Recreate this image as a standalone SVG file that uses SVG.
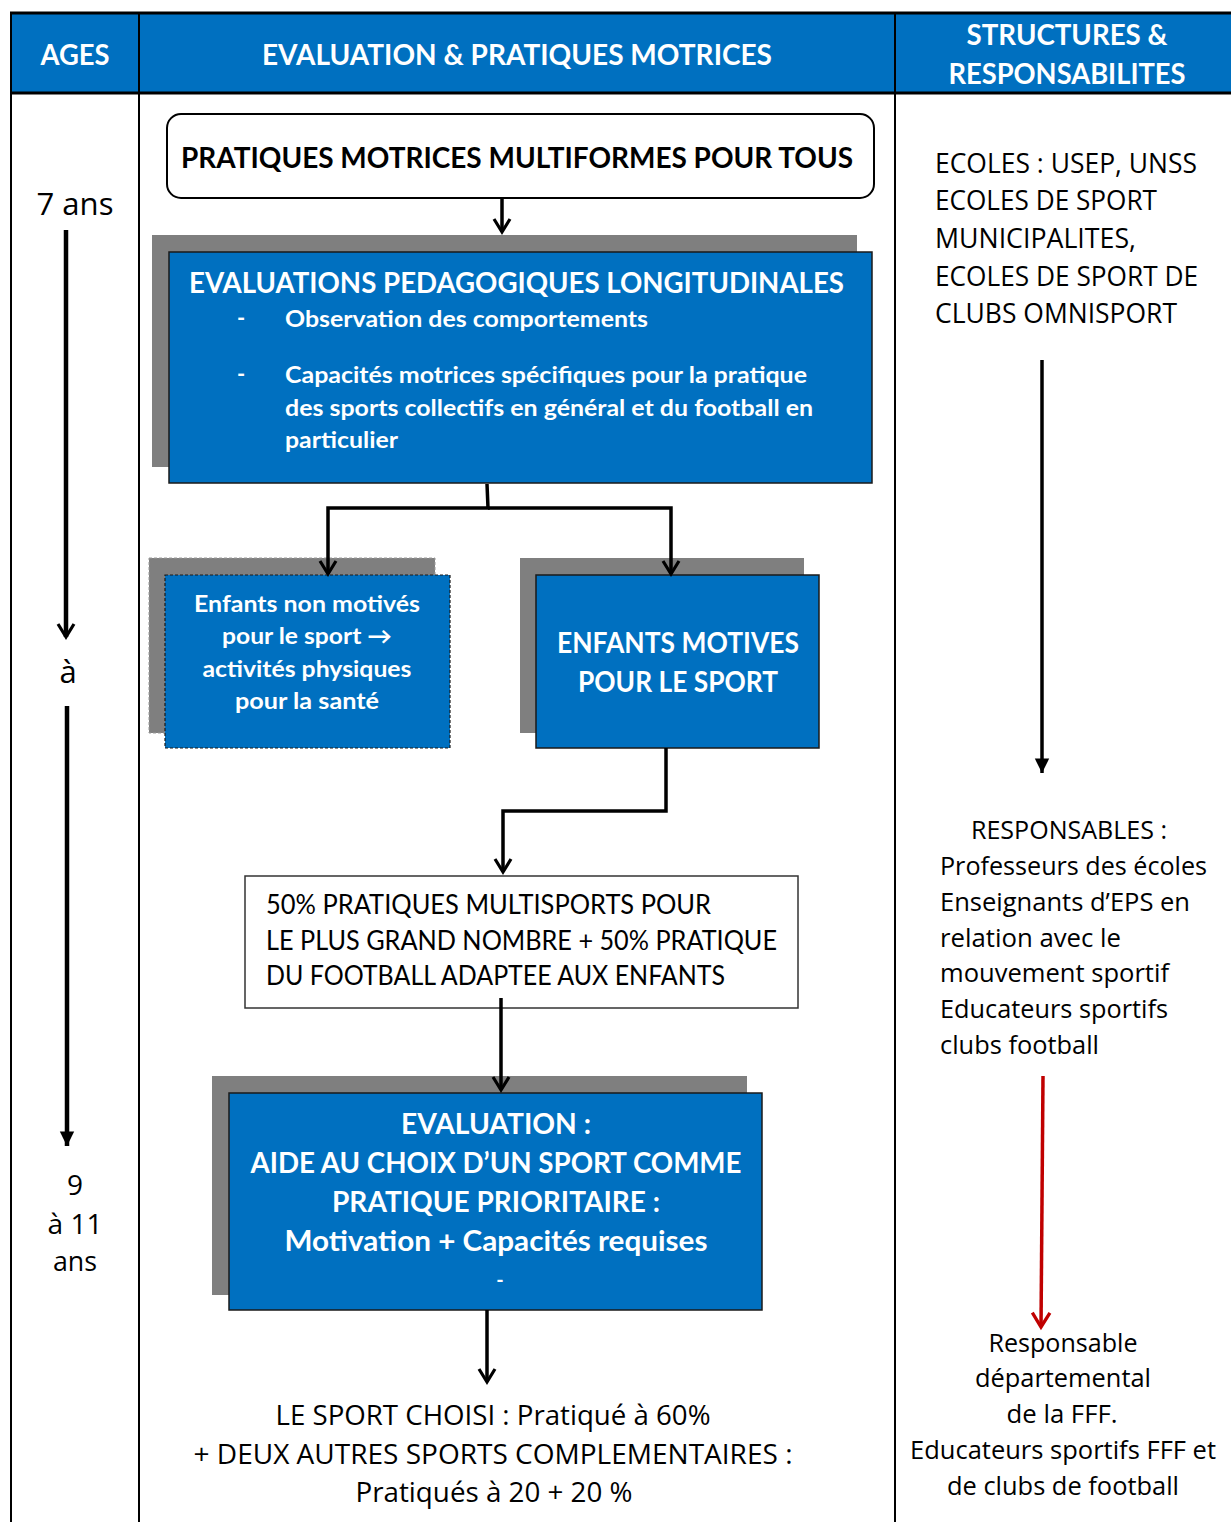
<svg xmlns="http://www.w3.org/2000/svg" width="1231" height="1522" viewBox="0 0 1231 1522">
<style>
.cal{font-family:Lato,"Liberation Sans",sans-serif}
.seg{font-family:"Open Sans","Liberation Sans",sans-serif;fill:#000}
.hd{font-weight:bold;fill:#fff;font-size:28px}
.wb{font-weight:bold;fill:#fff}
.blk{fill:#000}
.blue{fill:#0070C0;stroke:#1a1a1a;stroke-width:1.5}
.shadow{fill:#7F7F7F}
.conn{fill:none;stroke:#000;stroke-width:3.5}
.grid{stroke:#000;stroke-width:2}
</style>
<defs>
<marker id="openV" viewBox="0 0 20 20" refX="16" refY="10" markerWidth="20" markerHeight="20" markerUnits="userSpaceOnUse" orient="auto">
<path d="M3,2 L16,10 L3,18" fill="none" stroke="#000" stroke-width="3.2"/>
</marker>
<marker id="openVred" viewBox="0 0 20 20" refX="16" refY="10" markerWidth="22" markerHeight="22" markerUnits="userSpaceOnUse" orient="auto">
<path d="M3,2 L16,10 L3,18" fill="none" stroke="#C00000" stroke-width="3"/>
</marker>
<marker id="tri" viewBox="0 0 20 20" refX="18" refY="10" markerWidth="18" markerHeight="18" markerUnits="userSpaceOnUse" orient="auto">
<path d="M2,2 L18,10 L2,18 Z" fill="#000"/>
</marker>
</defs>
<rect width="1231" height="1522" fill="#fff"/>

<g id="table">
<rect x="11" y="13" width="1220" height="80" fill="#0070C0"/>
<line x1="10" y1="13" x2="1231" y2="13" stroke="#000" stroke-width="3"/>
<line x1="10" y1="93" x2="1231" y2="93" stroke="#000" stroke-width="3"/>
<line class="grid" x1="11" y1="12" x2="11" y2="1522"/>
<line class="grid" x1="139" y1="12" x2="139" y2="1522"/>
<line class="grid" x1="895" y1="12" x2="895" y2="1522"/>
<text class="cal hd" x="75" y="65" text-anchor="middle" textLength="69" lengthAdjust="spacingAndGlyphs">AGES</text>
<text class="cal hd" x="517" y="65" text-anchor="middle" textLength="510" lengthAdjust="spacingAndGlyphs">EVALUATION &amp; PRATIQUES MOTRICES</text>
<text class="cal hd" x="1067" y="45" text-anchor="middle" textLength="201" lengthAdjust="spacingAndGlyphs">STRUCTURES &amp;</text>
<text class="cal hd" x="1067" y="84" text-anchor="middle" textLength="237" lengthAdjust="spacingAndGlyphs">RESPONSABILITES</text>
</g>

<g id="ages">
<text class="seg" x="75" y="215" font-size="31" text-anchor="middle" textLength="77" lengthAdjust="spacingAndGlyphs">7 ans</text>
<text class="seg" x="68" y="683" font-size="31" text-anchor="middle">à</text>
<text class="seg" x="75" y="1195" font-size="28" text-anchor="middle">9</text>
<text class="seg" x="75" y="1234" font-size="28" text-anchor="middle" textLength="55" lengthAdjust="spacingAndGlyphs">à 11</text>
<text class="seg" x="75" y="1271" font-size="28" text-anchor="middle" textLength="44" lengthAdjust="spacingAndGlyphs">ans</text>
</g>

<g id="n1">
<rect x="167" y="114" width="707" height="84" rx="14" fill="#fff" stroke="#000" stroke-width="2"/>
<text class="cal blk" x="181" y="168" font-size="28" font-weight="bold" textLength="672" lengthAdjust="spacingAndGlyphs">PRATIQUES MOTRICES MULTIFORMES POUR TOUS</text>
</g>

<g id="n2">
<rect class="shadow" x="152" y="235" width="705" height="232"/>
<rect class="blue" x="169" y="252" width="703" height="231"/>
<text class="cal wb" x="189" y="293" font-size="28" textLength="655" lengthAdjust="spacingAndGlyphs">EVALUATIONS PEDAGOGIQUES LONGITUDINALES</text>
<text class="cal wb" x="237" y="326" font-size="22" font-weight="normal">-</text>
<text class="cal wb" x="285" y="327" font-size="23" textLength="363" lengthAdjust="spacingAndGlyphs">Observation des comportements</text>
<text class="cal wb" x="237" y="382" font-size="22" font-weight="normal">-</text>
<text class="cal wb" x="285" y="383" font-size="23" textLength="522" lengthAdjust="spacingAndGlyphs">Capacités motrices spécifiques pour la pratique</text>
<text class="cal wb" x="285" y="416" font-size="23" textLength="528" lengthAdjust="spacingAndGlyphs">des sports collectifs en général et du football en</text>
<text class="cal wb" x="285" y="448" font-size="23" textLength="113" lengthAdjust="spacingAndGlyphs">particulier</text>
</g>

<g id="n3">
<rect class="shadow" x="149" y="558" width="286" height="175" stroke="#9a9a9a" stroke-width="1" stroke-dasharray="3,2"/>
<rect x="165" y="575" width="285" height="173" fill="#0070C0" stroke="#1a1a1a" stroke-width="1.2" stroke-dasharray="3,2"/>
<text class="cal wb" x="307" y="612" font-size="23" text-anchor="middle" textLength="226" lengthAdjust="spacingAndGlyphs">Enfants non motivés</text>
<text class="cal wb" x="307" y="644" font-size="23" text-anchor="middle" textLength="170" lengthAdjust="spacingAndGlyphs">pour le sport →</text>
<text class="cal wb" x="307" y="677" font-size="23" text-anchor="middle" textLength="209" lengthAdjust="spacingAndGlyphs">activités physiques</text>
<text class="cal wb" x="307" y="709" font-size="23" text-anchor="middle" textLength="144" lengthAdjust="spacingAndGlyphs">pour la santé</text>
</g>

<g id="n4">
<rect class="shadow" x="520" y="558" width="284" height="175"/>
<rect class="blue" x="536" y="575" width="283" height="173"/>
<text class="cal wb" x="678" y="653" font-size="28" text-anchor="middle" textLength="242" lengthAdjust="spacingAndGlyphs">ENFANTS MOTIVES</text>
<text class="cal wb" x="678" y="692" font-size="28" text-anchor="middle" textLength="200" lengthAdjust="spacingAndGlyphs">POUR LE SPORT</text>
</g>

<g id="n5">
<rect x="245" y="876" width="553" height="132" fill="#fff" stroke="#333" stroke-width="1.5"/>
<text class="cal blk" x="266" y="914" font-size="26" textLength="445" lengthAdjust="spacingAndGlyphs">50% PRATIQUES MULTISPORTS POUR</text>
<text class="cal blk" x="266" y="950" font-size="26" textLength="511" lengthAdjust="spacingAndGlyphs">LE PLUS GRAND NOMBRE + 50% PRATIQUE</text>
<text class="cal blk" x="266" y="985" font-size="26" textLength="459" lengthAdjust="spacingAndGlyphs">DU FOOTBALL ADAPTEE AUX ENFANTS</text>
</g>

<g id="n6">
<rect class="shadow" x="212" y="1076" width="535" height="219"/>
<rect class="blue" x="229" y="1093" width="533" height="217"/>
<text class="cal wb" x="496" y="1134" font-size="28" text-anchor="middle" textLength="190" lengthAdjust="spacingAndGlyphs">EVALUATION :</text>
<text class="cal wb" x="496" y="1173" font-size="28" text-anchor="middle" textLength="491" lengthAdjust="spacingAndGlyphs">AIDE AU CHOIX D’UN SPORT COMME</text>
<text class="cal wb" x="496" y="1212" font-size="28" text-anchor="middle" textLength="328" lengthAdjust="spacingAndGlyphs">PRATIQUE PRIORITAIRE :</text>
<text class="cal wb" x="496" y="1251" font-size="28" text-anchor="middle" textLength="423" lengthAdjust="spacingAndGlyphs">Motivation + Capacités requises</text>
<text class="cal wb" x="500" y="1287" font-size="20" font-weight="normal" text-anchor="middle">-</text>
</g>

<g id="n7">
<text class="seg" x="493" y="1425" font-size="27" text-anchor="middle" textLength="435" lengthAdjust="spacingAndGlyphs">LE SPORT CHOISI : Pratiqué à 60%</text>
<text class="seg" x="493" y="1464" font-size="27" text-anchor="middle" textLength="599" lengthAdjust="spacingAndGlyphs">+ DEUX AUTRES SPORTS COMPLEMENTAIRES :</text>
<text class="seg" x="494" y="1502" font-size="27" text-anchor="middle" textLength="277" lengthAdjust="spacingAndGlyphs">Pratiqués à 20 + 20 %</text>
</g>

<g id="structures">
<text class="seg" x="935" y="173" font-size="27" textLength="262" lengthAdjust="spacingAndGlyphs">ECOLES : USEP, UNSS</text>
<text class="seg" x="935" y="210" font-size="27" textLength="222" lengthAdjust="spacingAndGlyphs">ECOLES DE SPORT</text>
<text class="seg" x="935" y="248" font-size="27" textLength="201" lengthAdjust="spacingAndGlyphs">MUNICIPALITES,</text>
<text class="seg" x="935" y="286" font-size="27" textLength="263" lengthAdjust="spacingAndGlyphs">ECOLES DE SPORT DE</text>
<text class="seg" x="935" y="323" font-size="27" textLength="242" lengthAdjust="spacingAndGlyphs">CLUBS OMNISPORT</text>
</g>

<g id="responsables">
<text class="seg" x="1069" y="839" font-size="26" text-anchor="middle" textLength="196" lengthAdjust="spacingAndGlyphs">RESPONSABLES :</text>
<text class="seg" x="940" y="875" font-size="26" textLength="267" lengthAdjust="spacingAndGlyphs">Professeurs des écoles</text>
<text class="seg" x="940" y="911" font-size="26" textLength="250" lengthAdjust="spacingAndGlyphs">Enseignants d’EPS en</text>
<text class="seg" x="940" y="947" font-size="26" textLength="181" lengthAdjust="spacingAndGlyphs">relation avec le</text>
<text class="seg" x="940" y="982" font-size="26" textLength="229" lengthAdjust="spacingAndGlyphs">mouvement sportif</text>
<text class="seg" x="940" y="1018" font-size="26" textLength="228" lengthAdjust="spacingAndGlyphs">Educateurs sportifs</text>
<text class="seg" x="940" y="1054" font-size="26" textLength="159" lengthAdjust="spacingAndGlyphs">clubs football</text>
</g>

<g id="fff">
<text class="seg" x="1063" y="1352" font-size="26" text-anchor="middle" textLength="149" lengthAdjust="spacingAndGlyphs">Responsable</text>
<text class="seg" x="1063" y="1387" font-size="26" text-anchor="middle" textLength="176" lengthAdjust="spacingAndGlyphs">départemental</text>
<text class="seg" x="1062" y="1423" font-size="26" text-anchor="middle" textLength="111" lengthAdjust="spacingAndGlyphs">de la FFF.</text>
<text class="seg" x="1063" y="1459" font-size="26" text-anchor="middle" textLength="306" lengthAdjust="spacingAndGlyphs">Educateurs sportifs FFF et</text>
<text class="seg" x="1063" y="1495" font-size="26" text-anchor="middle" textLength="232" lengthAdjust="spacingAndGlyphs">de clubs de football</text>
</g>

<g id="connectors">
<line class="conn" x1="502" y1="198" x2="502" y2="232" marker-end="url(#openV)"/>
<polyline class="conn" points="487,484 488,508 328,508 328,574" marker-end="url(#openV)"/>
<polyline class="conn" points="488,508 671,508 671,574" marker-end="url(#openV)"/>
<polyline class="conn" points="666,748 666,811 503,811 503,872" marker-end="url(#openV)"/>
<line class="conn" x1="501" y1="998" x2="501" y2="1090" marker-end="url(#openV)"/>
<line class="conn" x1="487" y1="1310" x2="487" y2="1382" marker-end="url(#openV)"/>
<line x1="66" y1="230" x2="66" y2="637" stroke="#000" stroke-width="4.5" marker-end="url(#openV)"/>
<line x1="67" y1="706" x2="67" y2="1146" stroke="#000" stroke-width="4.5" marker-end="url(#tri)"/>
<line x1="1042" y1="360" x2="1042" y2="773" stroke="#000" stroke-width="3.5" marker-end="url(#tri)"/>
<line x1="1043" y1="1076" x2="1041" y2="1327" stroke="#C00000" stroke-width="3.5" marker-end="url(#openVred)"/>
</g>
</svg>
